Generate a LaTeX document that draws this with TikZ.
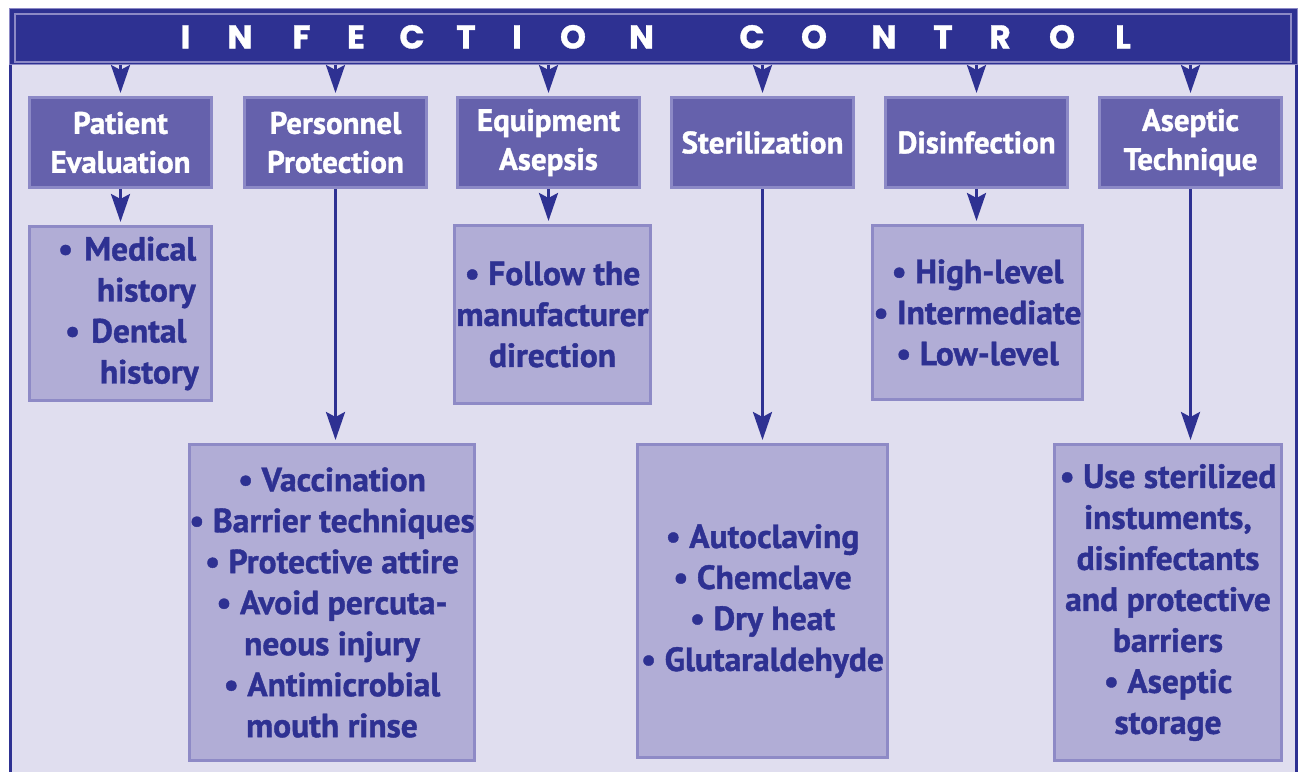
\documentclass[tikz,border=0pt]{standalone}
\usepackage{fontspec}
\usepackage{tikz}
\usetikzlibrary{arrows.meta}
\newfontfamily\boxfont{PT Sans}[FakeBold=1.2]
\newfontfamily\titlefont{Poppins}[FakeBold=1]
\definecolor{navy}{HTML}{2E3192}
\definecolor{lavbg}{HTML}{E0DEEF}
\definecolor{headfill}{HTML}{6561AC}
\definecolor{headedge}{HTML}{8C89C6}
\definecolor{itemfill}{HTML}{B1ADD6}
\definecolor{itemedge}{HTML}{8E8AC6}
\newcommand{\bul}{\textbullet\ }

\begin{document}
\begin{tikzpicture}[x=1pt, y=-1pt,
    hbox/.style={rectangle, draw=headedge, fill=headfill, line width=3pt, minimum width=182pt, minimum height=90pt, inner sep=0pt, align=center, text=white, font=\boxfont\bfseries\fontsize{31}{39}\selectfont},
    ibox/.style={rectangle, draw=itemedge, fill=itemfill, line width=3pt, inner sep=0pt, align=center, text=navy, font=\boxfont\bfseries\fontsize{33.5}{41}\selectfont},
    arr/.style={draw=navy, line width=3pt, shorten >=3pt, -{Stealth[length=28pt, width=19pt, inset=5pt]}}]

    % frame
    \fill[white] (0,0) rectangle (1301,772);
    \fill[lavbg] (9,9) rectangle (1297,772);
    \draw[navy, line width=3pt] (10,9) -- (10,772);
    \draw[navy, line width=3pt] (1296,9) -- (1296,772);

    % title bar
    \node[rectangle, fill=navy, draw=headedge, line width=1pt, minimum width=1288pt, minimum height=56pt, inner sep=0pt] (title) at (653,36) {};
    \draw[headedge, line width=1.2pt] (15,14) rectangle (1291,62);
    \foreach \ch/\px [count=\i] in {I/185.5, N/240, F/301.6, E/356, C/412, T/466, I/517, O/573, N/641.5, C/752, O/814, N/884, T/943, R/1000, O/1062, L/1123}
        \node[anchor=base, inner sep=0pt, text=white, font=\titlefont\bfseries\fontsize{33}{33}\selectfont] (t\i) at (\px,48.5) {\ch};

    % headings
    \node[hbox] (pat) at (120.5,142.5) {Patient\\Evaluation};
    \node[hbox] (per) at (335.5,142.5) {Personnel\\Protection};
    \node[hbox] (equ) at (548.5,142.5) {Equipment\\Asepsis};
    \node[hbox] (ste) at (762.5,142.5) {Sterilization};
    \node[hbox] (dis) at (976.5,142.5) {Disinfection};
    \node[hbox] (ase) at (1190.5,142.5) {Aseptic\\Technique};

    % lists
    \node[ibox, minimum width=182pt, minimum height=174pt, text width=175pt, align=left] (patlist) at (120.5,313.5)
        {\hspace*{25pt}\bul Medical\\\hspace*{64pt}history\\\hspace*{32pt}\bul Dental\\\hspace*{67pt}history};
    \node[ibox, minimum width=281pt, minimum height=316pt] (perlist) at (332,602.5)
        {\bul Vaccination\\\bul Barrier techniques\\\bul Protective attire\\\bul Avoid percuta-\\neous injury\\\bul Antimicrobial\\mouth rinse};
    \node[ibox, minimum width=196pt, minimum height=178pt] (equlist) at (552.5,314.5)
        {\bul Follow the\\manufacturer\\direction};
    \node[ibox, minimum width=250pt, minimum height=313pt] (stelist) at (762.5,601)
        {\bul Autoclaving\\\bul Chemclave\\\bul Dry heat\\\bul Glutaraldehyde};
    \node[ibox, minimum width=210pt, minimum height=174pt] (dislist) at (977.5,312.5)
        {\bul High-level\\\bul Intermediate\\\bul Low-level};
    \node[ibox, minimum width=227pt, minimum height=316pt] (aselist) at (1168,602.5)
        {\bul Use sterilized\\instuments,\\disinfectants\\and protective\\barriers\\\bul Aseptic\\storage};

    % arrows
    \foreach \h in {pat,per,equ,ste,dis,ase}
        \draw[arr] (\h.north |- title.south) -- (\h.north);
    \foreach \h in {pat,per,equ,ste,dis,ase}
        \draw[arr] (\h.south) -- (\h.south |- \h list.north);
\end{tikzpicture}
\end{document}
